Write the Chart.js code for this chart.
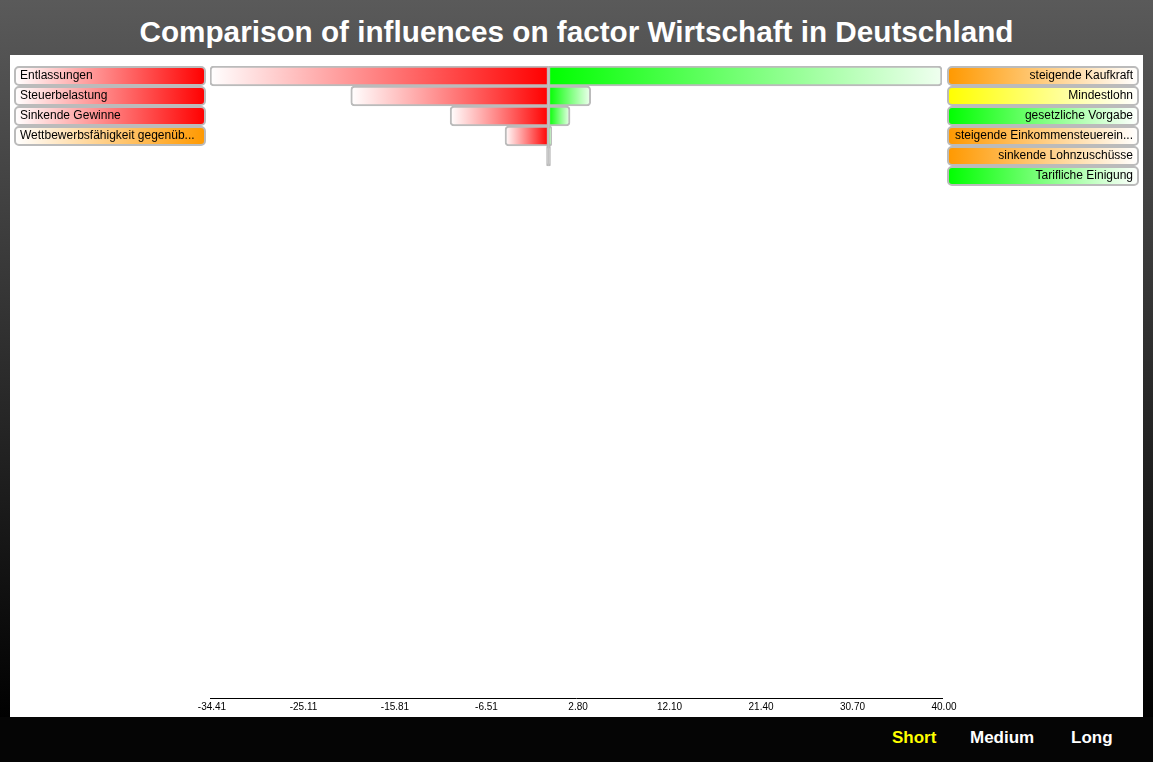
<!DOCTYPE html>
<html>
<head>
<meta charset="utf-8">
<style>
  body { margin: 0; width: 1153px; height: 762px; overflow: hidden;
         background: linear-gradient(#5a5a5a, #000 95%); font-family: Arial, "Liberation Sans", Helvetica, sans-serif; }
  #title { position: absolute; left: 0; top: 15px; width: 1153px; text-align: center;
           color: #fff; font-weight: bold; font-size: 29.7px; }
  #panel { position: absolute; left: 10px; top: 55px; width: 1133px; height: 662px; background: #fff; }
  #bottom { position: absolute; left: 0; top: 717px; width: 1153px; height: 45px; background: #050505; }
  .btn { position: absolute; top: 728px; color: #fff; font-weight: bold; font-size: 17px; }
</style>
</head>
<body>
<div id="title">Comparison of influences on factor Wirtschaft in Deutschland</div>
<div id="panel"><canvas id="bar" width="1133" height="662"></canvas></div>
<div id="bottom"></div>
<span class="btn" style="left:892px;color:#ffff00">Short</span>
<span class="btn" style="left:970px">Medium</span>
<span class="btn" style="left:1071px">Long</span>
<script src="https://cdn.jsdelivr.net/npm/chart.js"></script>
<script>
// bar rows (top to bottom)
const rowIdx = [0, 1, 2, 3, 4];
const negValues = [-34.41, -20.1, -10.0, -4.42, -0.2];
const posValues = [40.0, 4.29, 2.19, 0.32, 0.2];
const xTicks = [-34.41, -25.11, -15.81, -6.51, 2.80, 12.10, 21.40, 30.70, 40.00];

// influence labels
const leftLabels = ['Entlassungen', 'Steuerbelastung', 'Sinkende Gewinne', 'Wettbewerbsfähigkeit gegenüb...'];
const leftColors = ['#ff0000', '#ff0000', '#ff0000', '#ff9900'];
const rightLabels = ['steigende Kaufkraft', 'Mindestlohn', 'gesetzliche Vorgabe',
                     'steigende Einkommensteuerein...', 'sinkende Lohnzuschüsse', 'Tarifliche Einigung'];
const rightColors = ['#ff9900', '#ffff00', '#00ff00', '#ff9900', '#ff9900', '#00ff00'];

function barFill(c, color, endColor) {
    const chart = c.chart;
    if (!chart.chartArea || !c.parsed) return color;
    const xs = chart.scales.x;
    const p0 = xs.getPixelForValue(0);
    const p1 = xs.getPixelForValue(c.parsed.x);
    if (Math.abs(p1 - p0) < 3) return '#bbbbbb';
    const g = chart.ctx.createLinearGradient(p0, 0, p1, 0);
    g.addColorStop(0, color);
    g.addColorStop(1, endColor);
    return g;
}

function drawBox(ctx, x0, x1, yc, color, whiteLeft, text, alignRight) {
    const g = ctx.createLinearGradient(x0, 0, x1, 0);
    g.addColorStop(whiteLeft ? 0 : 1, '#ffffff');
    g.addColorStop(whiteLeft ? 1 : 0, color);
    ctx.beginPath();
    ctx.roundRect(x0, yc - 9, x1 - x0, 18, 4);
    ctx.fillStyle = g;
    ctx.fill();
    ctx.lineWidth = 2;
    ctx.strokeStyle = '#bbbbbb';
    ctx.stroke();
    ctx.fillStyle = '#000';
    ctx.font = '12px Arial, "Liberation Sans", sans-serif';
    ctx.textBaseline = 'middle';
    ctx.textAlign = alignRight ? 'right' : 'left';
    ctx.fillText(text, alignRight ? x1 - 5 : x0 + 5, yc);
}

const labelBoxes = {
    id: 'labelBoxes',
    afterDraw(chart) {
        const ctx = chart.ctx;
        const ys = chart.scales.y;
        ctx.save();
        leftLabels.forEach((t, i) => drawBox(ctx, 5, 195, ys.getPixelForValue(i), leftColors[i], true, t, false));
        rightLabels.forEach((t, i) => drawBox(ctx, 938, 1128, ys.getPixelForValue(i), rightColors[i], false, t, true));
        ctx.restore();
    }
};

const ctx = document.getElementById('bar');
new Chart(ctx, {
    type: 'bar',
    data: {
        datasets: [{
            label: 'negative',
            data: rowIdx.map((r, i) => ({ x: negValues[i], y: r })),
            backgroundColor: c => barFill(c, '#ff0000', '#ffffff'),
            borderColor: '#bbbbbb',
            borderWidth: 2,
            borderSkipped: false,
            borderRadius: { topLeft: 4, bottomLeft: 4, topRight: 0, bottomRight: 0 },
            barThickness: 20
        }, {
            label: 'positive',
            data: rowIdx.map((r, i) => ({ x: posValues[i], y: r })),
            backgroundColor: c => barFill(c, '#00ff00', '#f0fff0'),
            borderColor: '#bbbbbb',
            borderWidth: 2,
            borderSkipped: false,
            borderRadius: { topLeft: 0, bottomLeft: 0, topRight: 4, bottomRight: 4 },
            barThickness: 20
        }]
    },
    options: {
        indexAxis: 'y',
        responsive: false,
        animation: false,
        layout: { padding: { left: 200, right: 201, top: 11, bottom: 1 } },
        plugins: { legend: { display: false }, tooltip: { enabled: false } },
        scales: {
            x: {
                type: 'linear',
                stacked: true,
                min: xTicks[0],
                max: xTicks[xTicks.length - 1],
                afterBuildTicks: s => { s.ticks = xTicks.map(v => ({ value: v })); },
                grid: { display: false, drawTicks: false },
                border: { display: true, color: '#000', width: 1 },
                ticks: {
                    color: '#000',
                    font: { size: 10, family: 'Arial, "Liberation Sans", sans-serif' },
                    padding: 3,
                    labelOffset: 2,
                    maxRotation: 0,
                    autoSkip: false,
                    callback: v => Number(v).toFixed(2)
                }
            },
            y: {
                type: 'linear',
                stacked: true,
                reverse: true,
                offset: false,
                min: -0.5,
                max: 31.1,
                display: false
            }
        }
    },
    plugins: [labelBoxes]
});
</script>
</body>
</html>
